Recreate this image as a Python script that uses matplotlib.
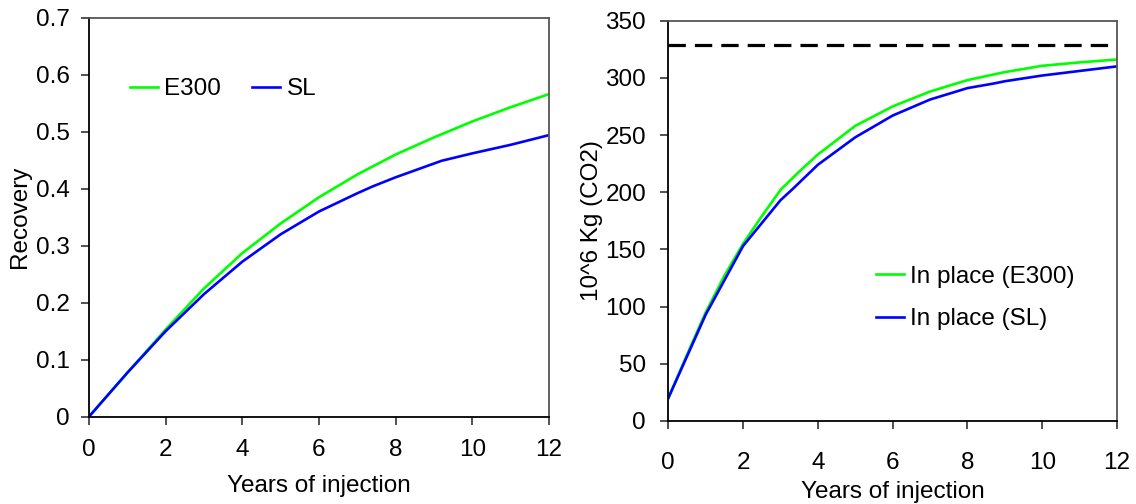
import matplotlib
matplotlib.use("Agg")
import matplotlib.pyplot as plt

# ---- data ----
rec_years_e300 = [0, 1, 2, 3, 4, 5, 6, 7, 8, 9, 10, 11, 12]
rec_e300 = [0, 0.077, 0.153, 0.225, 0.287, 0.339, 0.385, 0.425, 0.46, 0.49, 0.518, 0.543, 0.566]
rec_years_sl = [0, 1, 2, 3, 4, 5, 6, 7, 7.4, 8, 9.2, 10, 11, 12]
rec_sl = [0, 0.077, 0.15, 0.215, 0.272, 0.32, 0.36, 0.392, 0.404, 0.42, 0.449, 0.462, 0.477, 0.494]

co2_years_e300 = [0, 0.5, 1, 1.5, 2, 2.5, 3, 3.5, 4, 5, 6, 7, 8, 9, 10, 11, 12]
co2_e300 = [20, 58, 95, 127, 155, 179, 202, 218, 233, 258, 275, 288, 298, 305, 310.5, 313.5, 316]
co2_years_sl = [0, 1, 2, 3, 3.3, 4, 5, 6, 7, 8, 8.7, 9, 10, 11, 12]
co2_sl = [20, 93, 153, 193, 202, 224, 248, 267, 281, 291, 295, 297, 302, 306, 310]
total_co2 = 329

x_ticks = [0, 2, 4, 6, 8, 10, 12]
rec_ticks = [0, 0.1, 0.2, 0.3, 0.4, 0.5, 0.6, 0.7]
rec_ticklabels = ["0", "0.1", "0.2", "0.3", "0.4", "0.5", "0.6", "0.7"]
co2_ticks = [0, 50, 100, 150, 200, 250, 300, 350]

GREEN = "#00FF00"
BLUE = "#0000FF"

plt.rcParams["font.family"] = ["Liberation Sans", "DejaVu Sans"]
plt.rcParams["lines.scale_dashes"] = False
FS = 17.5

fig = plt.figure(figsize=(11.36, 5.04), dpi=100)
ax1 = fig.add_axes([0.0783, 0.1732, 0.405, 0.7917])
ax2 = fig.add_axes([0.5883, 0.1647, 0.395, 0.7944])

def style(ax):
    for s in ["left", "bottom"]:
        ax.spines[s].set_color("black")
        ax.spines[s].set_linewidth(1.3)
    for s in ["top", "right"]:
        ax.spines[s].set_color("#555555")
        ax.spines[s].set_linewidth(1.3)
    ax.tick_params(direction="out", length=6, width=1.2, labelsize=FS, color="#333333")
    ax.set_xlim(0, 12)
    ax.set_xticks(x_ticks)
    ax.set_xticklabels([str(t) for t in x_ticks])

# left
ax1.plot(rec_years_e300, rec_e300, color=GREEN, lw=1.9, label="E300")
ax1.plot(rec_years_sl, rec_sl, color=BLUE, lw=1.9, label="SL")
style(ax1)
ax1.set_ylim(0, 0.7)
ax1.set_yticks(rec_ticks)
ax1.set_yticklabels(rec_ticklabels)
ax1.tick_params(axis="x", pad=10)
ax1.tick_params(axis="y", pad=8)
ax1.set_xlabel("Years of injection", fontsize=FS, labelpad=10)
ax1.set_ylabel("Recovery", fontsize=FS, labelpad=3)
ax1.legend(loc="center left", bbox_to_anchor=(0.089, 0.821), ncol=2, frameon=False,
           fontsize=FS, handlelength=1.15, handletextpad=0.25, columnspacing=1.3,
           borderpad=0, borderaxespad=0)

# right
ax2.plot(co2_years_e300, co2_e300, color=GREEN, lw=1.9, label="In place (E300)")
ax2.plot(co2_years_sl, co2_sl, color=BLUE, lw=1.9, label="In place (SL)")
ax2.axhline(total_co2, color="black", lw=2.3, ls=(0, (12.5, 6.5)), dash_capstyle="butt")
style(ax2)
ax2.set_ylim(0, 350)
ax2.set_yticks(co2_ticks)
ax2.set_yticklabels([str(t) for t in co2_ticks])
ax2.tick_params(axis="x", pad=16.5)
ax2.tick_params(axis="y", pad=10)
ax2.set_xlabel("Years of injection", fontsize=FS, labelpad=5)
ax2.set_ylabel("10^6 Kg (CO2)", fontsize=FS, labelpad=2)
ax2.legend(loc="center left", bbox_to_anchor=(0.463, 0.307), frameon=False,
           fontsize=FS, handlelength=1.15, handletextpad=0.25, labelspacing=0.85,
           borderpad=0, borderaxespad=0)

fig.savefig("out.png", dpi=100)
